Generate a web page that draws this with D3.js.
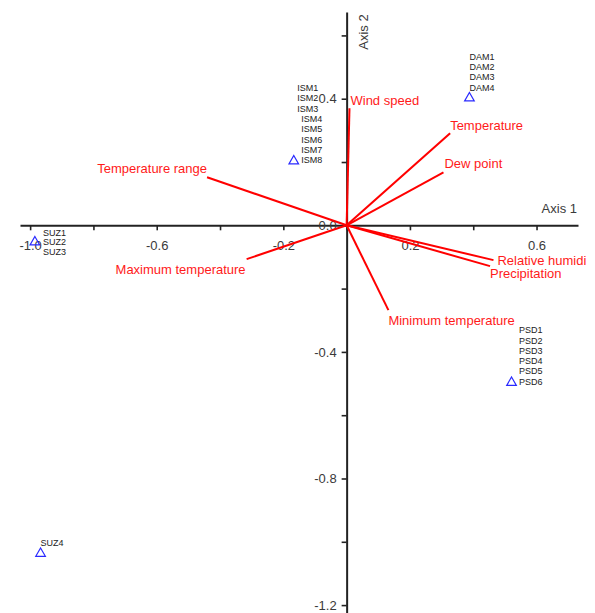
<!DOCTYPE html>
<html>
<head>
<meta charset="utf-8">
<script src="https://cdn.jsdelivr.net/npm/d3@7/dist/d3.min.js"></script>
<style>
  html, body { margin: 0; padding: 0; background: #fff; }
  svg { display: block; font-family: Arial, "Liberation Sans", sans-serif; }
</style>
</head>
<body>
<svg id="chart" width="595" height="613"></svg>
<script>
// ---- Data ----
const sampleGroups = ["SUZ1-3", "ISM", "DAM", "PSD", "SUZ4"];
const sampleX = [-0.985, -0.167, 0.388, 0.521, -0.967];
const sampleY = [-0.053, 0.203, 0.402, -0.497, -1.037];
const sampleLabels = [
  ["SUZ1", "SUZ2", "SUZ3"],
  ["ISM1", "ISM2", "ISM3", "ISM4", "ISM5", "ISM6", "ISM7", "ISM8"],
  ["DAM1", "DAM2", "DAM3", "DAM4"],
  ["PSD1", "PSD2", "PSD3", "PSD4", "PSD5", "PSD6"],
  ["SUZ4"]
];

const vectorNames = ["Temperature range", "Maximum temperature", "Wind speed", "Temperature",
  "Dew point", "Relative humidi", "Precipitation", "Minimum temperature"];
const vectorX = [-0.441, -0.316, 0.009, 0.327, 0.306, 0.464, 0.453, 0.132];
const vectorY = [0.152, -0.107, 0.370, 0.291, 0.167, -0.110, -0.129, -0.268];

const xTickValues = [-1.0, -0.8, -0.6, -0.4, -0.2, 0.0, 0.2, 0.4, 0.6];
const xTickLabels = ["-1.0", "", "-0.6", "", "-0.2", "", "0.2", "", "0.6"];
const yTickValues = [0.6, 0.4, 0.2, 0.0, -0.2, -0.4, -0.6, -0.8, -1.0, -1.2];
const yTickLabels = ["", "0.4", "", "0.0", "", "-0.4", "", "-0.8", "", "-1.2"];
const xAxisTitle = "Axis 1";
const yAxisTitle = "Axis 2";

// ---- Layout ----
const svg = d3.select("#chart");
const x = d3.scaleLinear().domain([-1.032, 0.731]).range([20, 578]);
const y = d3.scaleLinear().domain([-1.225, 0.674]).range([613, 12]);
const axisColor = "#222";
const textColor = "#3a3a3a";
const red = "#ff0000";

// Axes
const xAxis = d3.axisBottom(x)
  .tickValues(xTickValues)
  .tickSizeInner(5).tickSizeOuter(0).tickPadding(10)
  .tickFormat((d, i) => xTickLabels[i]);
const gx = svg.append("g").attr("transform", `translate(0,${y(0)})`).call(xAxis);

const yAxis = d3.axisLeft(y)
  .tickValues(yTickValues)
  .tickSizeInner(5).tickSizeOuter(0).tickPadding(5)
  .tickFormat((d, i) => yTickLabels[i]);
const gy = svg.append("g").attr("transform", `translate(${x(0)},0)`).call(yAxis);

[gx, gy].forEach(g => {
  g.select(".domain").attr("stroke", axisColor).attr("stroke-width", 2);
  g.selectAll(".tick line").attr("stroke", axisColor).attr("stroke-width", 1.6);
  g.selectAll(".tick text").attr("fill", textColor).attr("font-size", 13)
    .attr("font-family", "Arial, 'Liberation Sans', sans-serif");
});

// Axis titles
svg.append("text")
  .attr("x", 577).attr("y", 213)
  .attr("text-anchor", "end")
  .attr("font-size", 13).attr("fill", textColor)
  .text(xAxisTitle);
svg.append("text")
  .attr("transform", `translate(368,32) rotate(-90)`)
  .attr("text-anchor", "middle")
  .attr("font-size", 13).attr("fill", textColor)
  .text(yAxisTitle);

// Vectors
const vectors = vectorNames.map((n, i) => ({ name: n, vx: vectorX[i], vy: vectorY[i] }));
svg.append("g").selectAll("line").data(vectors).join("line")
  .attr("x1", x(0)).attr("y1", y(0))
  .attr("x2", d => x(d.vx)).attr("y2", d => y(d.vy))
  .attr("stroke", red).attr("stroke-width", 2);

// label nudges (layout only): [dx, dy of baseline relative to vector tip]
const labelNudge = {
  "Temperature range": [0, -4],
  "Maximum temperature": [-1, 15],
  "Wind speed": [1, -3],
  "Temperature": [0, -3],
  "Dew point": [1, -4],
  "Relative humidi": [4, 4.5],
  "Precipitation": [0, 12],
  "Minimum temperature": [0, 15]
};
svg.append("g").selectAll("text").data(vectors).join("text")
  .attr("x", d => x(d.vx) + labelNudge[d.name][0])
  .attr("y", d => y(d.vy) + labelNudge[d.name][1])
  .attr("text-anchor", d => d.vx < 0 ? "end" : "start")
  .attr("font-size", 13).attr("fill", "#ff1a1a")
  .text(d => d.name);

// Sample points
const samples = sampleGroups.map((g, i) => ({ group: g, sx: sampleX[i], sy: sampleY[i], labels: sampleLabels[i] }));
const tri = d3.symbol().type(d3.symbolTriangle).size(40);
svg.append("g").selectAll("path").data(samples).join("path")
  .attr("d", tri)
  .attr("transform", d => `translate(${x(d.sx)},${y(d.sy)})`)
  .attr("fill", "none").attr("stroke", "#2a2aff").attr("stroke-width", 1.2);

// bounding boxes of y tick labels, for collision avoidance
const tickBoxes = [];
gy.selectAll(".tick text").each(function () {
  if (!this.textContent) return;
  const b = this.getBBox();
  const t = this.parentNode.getAttribute("transform").match(/translate\(([^,]+),([^)]+)\)/);
  const ox = x(0) + (+t[1]), oy = +t[2];
  tickBoxes.push({ x0: b.x + ox, x1: b.x + b.width + ox, y0: b.y + oy, y1: b.y + b.height + oy });
});

// label placement modes (layout only)
const placement = { "SUZ1-3": "rightMid", "ISM": "rightUp", "DAM": "above", "PSD": "rightUp", "SUZ4": "above" };
const spacing = 10.3;
const labelG = svg.append("g").attr("font-size", 9).attr("fill", "#222");
samples.forEach(s => {
  const px = x(s.sx), py = y(s.sy);
  const n = s.labels.length;
  s.labels.forEach((lab, j) => {
    let lx, ly;
    const mode = placement[s.group];
    if (mode === "rightMid") {
      lx = px + 8; ly = py + (j - (n - 1) / 2) * 9.6;
    } else if (mode === "rightUp") {
      lx = px + 7.5; ly = py - (n - 1 - j) * spacing - 1;
    } else {
      lx = px; ly = py - 10.5 - (n - 1 - j) * spacing;
    }
    const t = labelG.append("text").attr("x", lx).attr("y", ly).attr("dy", "0.35em").text(lab);
    // shift left if the label collides with an axis tick label
    for (let k = 0; k < 30; k++) {
      const b = t.node().getBBox();
      const hit = tickBoxes.some(tb => b.x < tb.x1 && b.x + b.width > tb.x0 && b.y < tb.y1 && b.y + b.height > tb.y0);
      if (!hit) break;
      lx -= 1;
      t.attr("x", lx);
    }
  });
});
</script>
</body>
</html>
